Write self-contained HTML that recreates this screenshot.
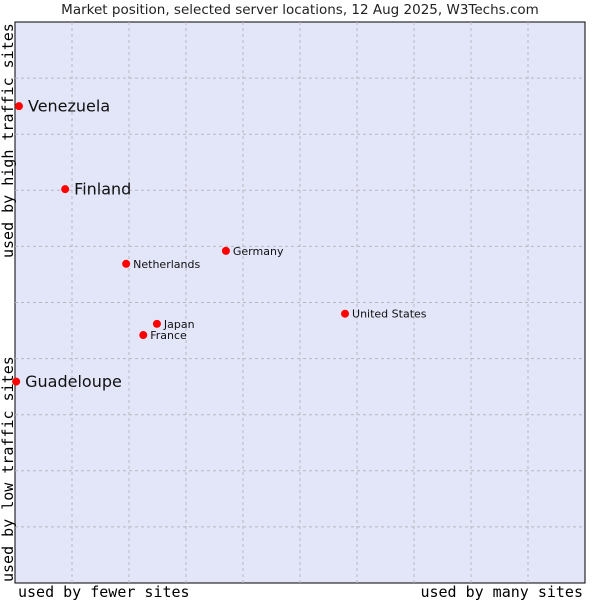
<!DOCTYPE html>
<html><head><meta charset="utf-8"><style>
body{margin:0;background:#fff}
svg text{font-family:"DejaVu Sans","Liberation Sans",sans-serif}
.mono{font-family:"DejaVu Sans Mono","Liberation Mono",monospace}
</style></head><body>
<svg id="chart" width="600" height="600">
<text x="300" y="14" text-anchor="middle" font-size="13.5" fill="#222">Market position, selected server locations, 12 Aug 2025, W3Techs.com</text>
<rect x="15" y="22" width="570" height="561" fill="#e3e5f8" stroke="#000" stroke-width="1"/>
<g id="grid"></g>
<g id="points"></g>
<text class="mono" x="18" y="597" font-size="15" fill="#000">used by fewer sites</text>
<text class="mono" x="583" y="597" font-size="15" text-anchor="end" fill="#000">used by many sites</text>
<text class="mono" transform="translate(13,258) rotate(-90)" font-size="15" fill="#000">used by high traffic sites</text>
<text class="mono" transform="translate(13,582) rotate(-90)" font-size="15" fill="#000">used by low traffic sites</text>
</svg>
<script>
const names=["Venezuela","Finland","Netherlands","Germany","Japan","France","United States","Guadeloupe"];
const xVals=[0.7,8.8,19.5,37.0,24.9,22.5,57.9,0.2];
const yVals=[85.0,70.2,56.9,59.2,46.2,44.2,48.0,35.9];
const bigLabel=[true,true,false,false,false,false,false,true];
const NS="http://www.w3.org/2000/svg";
const X0=15,X1=585,Y0=22,Y1=583;
const sx=v=>X0+v/100*(X1-X0);
const sy=v=>Y1-v/100*(Y1-Y0);
const grid=document.getElementById('grid');
for(let i=1;i<10;i++){
 const l=document.createElementNS(NS,'line');
 
 
 l.setAttribute('x1',sx(i*10));l.setAttribute('x2',sx(i*10));l.setAttribute('y1',Y0);l.setAttribute('y2',Y1);
 l.setAttribute('stroke','#b8b8c0');l.setAttribute('stroke-dasharray','3,3');grid.appendChild(l);
 const h=document.createElementNS(NS,'line');
 
 
 h.setAttribute('y1',sy(i*10));h.setAttribute('y2',sy(i*10));h.setAttribute('x1',X0);h.setAttribute('x2',X1);
 h.setAttribute('stroke','#b8b8c0');h.setAttribute('stroke-dasharray','3,3');grid.appendChild(h);
}
const pts=document.getElementById('points');
names.forEach((n,i)=>{
 const x=sx(xVals[i]),y=sy(yVals[i]);
 const c=document.createElementNS(NS,'circle');
 
 
 c.setAttribute('cx',x);c.setAttribute('cy',y);c.setAttribute('r',4);c.setAttribute('fill','#f00');pts.appendChild(c);
 const t=document.createElementNS(NS,'text');
 
 
 const big=bigLabel[i];
 t.setAttribute('x',x+(big?9:7));t.setAttribute('y',y+(big?5.5:4));
 t.setAttribute('font-size',big?16:11);t.setAttribute('fill','#111');
 t.textContent=n;pts.appendChild(t);
});
</script>
</body></html>
